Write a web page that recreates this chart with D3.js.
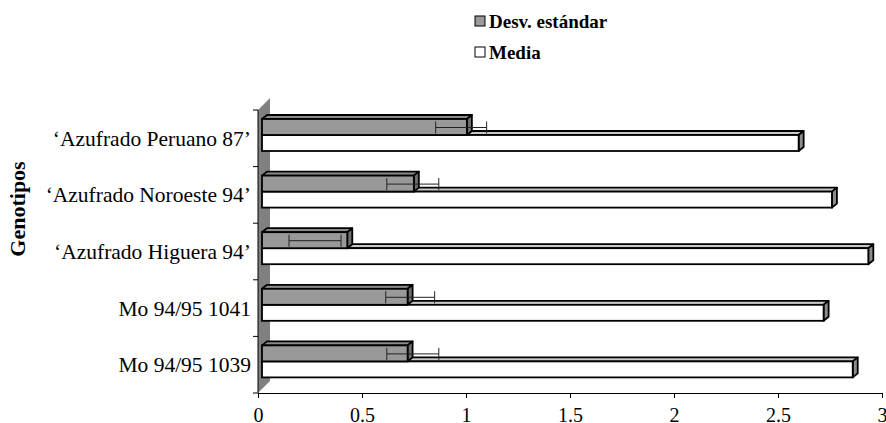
<!DOCTYPE html>
<html>
<head>
<meta charset="utf-8">
<script src="https://cdn.jsdelivr.net/npm/d3@7"></script>
<style>
  body { margin: 0; background: #fff; }
  text { font-family: "Liberation Serif", "Times New Roman", serif; fill: #000; }
</style>
</head>
<body>
<div id="chart"></div>
<script>
// genotypes, top to bottom
var genotipos = [
  "\u2018Azufrado Peruano 87\u2019",
  "\u2018Azufrado Noroeste 94\u2019",
  "\u2018Azufrado Higuera 94\u2019",
  "Mo 94/95 1041",
  "Mo 94/95 1039"
];
// series values
var media = [2.58, 2.74, 2.915, 2.70, 2.84];
var desvEstandar = [0.985, 0.73, 0.41, 0.70, 0.70];
// error bar ends (as drawn)
var errLow = [0.835, 0.60, 0.13, 0.595, 0.60];
var errHigh = [1.08, 0.85, 0.38, 0.83, 0.85];
var xTicks = [0, 0.5, 1, 1.5, 2, 2.5, 3];
var series = ["Desv. est\u00e1ndar", "Media"];

var width = 886, height = 423;

var svg = d3.select("#chart").append("svg")
    .attr("width", width)
    .attr("height", height);

var x = d3.scaleLinear().domain([0, 3]).range([258, 882]);
var y = d3.scaleBand().domain(genotipos).range([110, 393]).padding(0);

// depth of the wall and of the bars
var wallD = 12, barDx = 5, barDy = 4, barOff = 4;
var barH = 16, topGap = 9;

// grey back wall
svg.append("polygon")
  .attr("points", [
    [x(0), y.range()[0]], [x(0) + wallD, y.range()[0] - wallD],
    [x(0) + wallD, y.range()[1] - wallD], [x(0), y.range()[1]]
  ].join(" "))
  .attr("fill", "#808080");

// axes
var xAxis = svg.append("g")
  .attr("transform", "translate(0," + y.range()[1] + ")")
  .call(d3.axisBottom(x).tickValues(xTicks).tickSize(5).tickFormat(d3.format("")));
xAxis.select(".domain").attr("stroke", "#000");
xAxis.selectAll("line").attr("stroke", "#000");
xAxis.selectAll("text")
  .attr("y", 29)
  .attr("dy", 0)
  .style("font-size", "20px")
  .style("font-family", "Liberation Serif");

var bounds = genotipos.map(function(d) { return y(d); }).concat([y.range()[1]]);
svg.append("line")
  .attr("x1", x(0)).attr("x2", x(0))
  .attr("y1", y.range()[0]).attr("y2", y.range()[1])
  .attr("stroke", "#000");
svg.selectAll(".ytick")
  .data(bounds)
  .enter().append("line")
  .attr("x1", x(0) - 5).attr("x2", x(0))
  .attr("y1", function(d) { return d; })
  .attr("y2", function(d) { return d; })
  .attr("stroke", "#000");

svg.selectAll(".ylabel")
  .data(genotipos)
  .enter().append("text")
  .attr("x", 251)
  .attr("y", function(d) { return y(d) + y.bandwidth() / 2; })
  .attr("dy", "0.35em")
  .attr("text-anchor", "end")
  .style("font-size", "21.5px")
  .text(function(d) { return d; });

svg.append("text")
  .attr("transform", "translate(25,209) rotate(-90)")
  .attr("text-anchor", "middle")
  .style("font-size", "22px")
  .style("font-weight", "bold")
  .text("Genotipos");

// draw one 3d bar
function bar3d(g, v, top, front, topFill, sideFill) {
  var x0 = x(0) + barOff, x1 = x(v) + barOff;
  var b = top + barH;
  g.append("polygon")
    .attr("points", [[x0, top], [x0 + barDx, top - barDy], [x1 + barDx, top - barDy], [x1, top]].join(" "))
    .attr("fill", topFill).attr("stroke", "#000").attr("stroke-width", 1.8)
    .attr("stroke-linejoin", "round");
  g.append("polygon")
    .attr("points", [[x1, top], [x1 + barDx, top - barDy], [x1 + barDx, b - barDy], [x1, b]].join(" "))
    .attr("fill", sideFill).attr("stroke", "#000").attr("stroke-width", 1.8)
    .attr("stroke-linejoin", "round");
  g.append("rect")
    .attr("x", x0).attr("y", top)
    .attr("width", x1 - x0).attr("height", barH)
    .attr("fill", front).attr("stroke", "#000").attr("stroke-width", 1.8);
}

genotipos.forEach(function(d, i) {
  var g = svg.append("g");
  var gTop = y(d) + topGap;
  // media (white) sits under the grey one
  bar3d(g, media[i], gTop + barH, "#fff", "#c8c8c8", "#8c8c8c");
  bar3d(g, desvEstandar[i], gTop, "#999999", "#8a8a8a", "#6e6e6e");

  // error bar
  var ey = gTop + barH / 2 + 0.5;
  var e = svg.append("g").attr("stroke", "#222").attr("stroke-width", 1);
  e.append("line")
    .attr("x1", x(errLow[i]) + barOff).attr("x2", x(errHigh[i]) + barOff)
    .attr("y1", ey).attr("y2", ey);
  [errLow[i], errHigh[i]].forEach(function(v) {
    e.append("line")
      .attr("x1", x(v) + barOff).attr("x2", x(v) + barOff)
      .attr("y1", ey - 6).attr("y2", ey + 6);
  });
});

// legend
var legend = svg.selectAll(".legend")
  .data(series)
  .enter().append("g")
  .attr("transform", function(d, i) { return "translate(475," + (16 + 31 * i) + ")"; });
legend.append("rect")
  .attr("width", 10).attr("height", 10)
  .attr("fill", function(d, i) { return i === 0 ? "#999999" : "#fff"; })
  .attr("stroke", "#000");
legend.append("text")
  .attr("x", 14).attr("y", 12)
  .style("font-size", "19px")
  .style("font-weight", "bold")
  .text(function(d) { return d; });
</script>
</body>
</html>
